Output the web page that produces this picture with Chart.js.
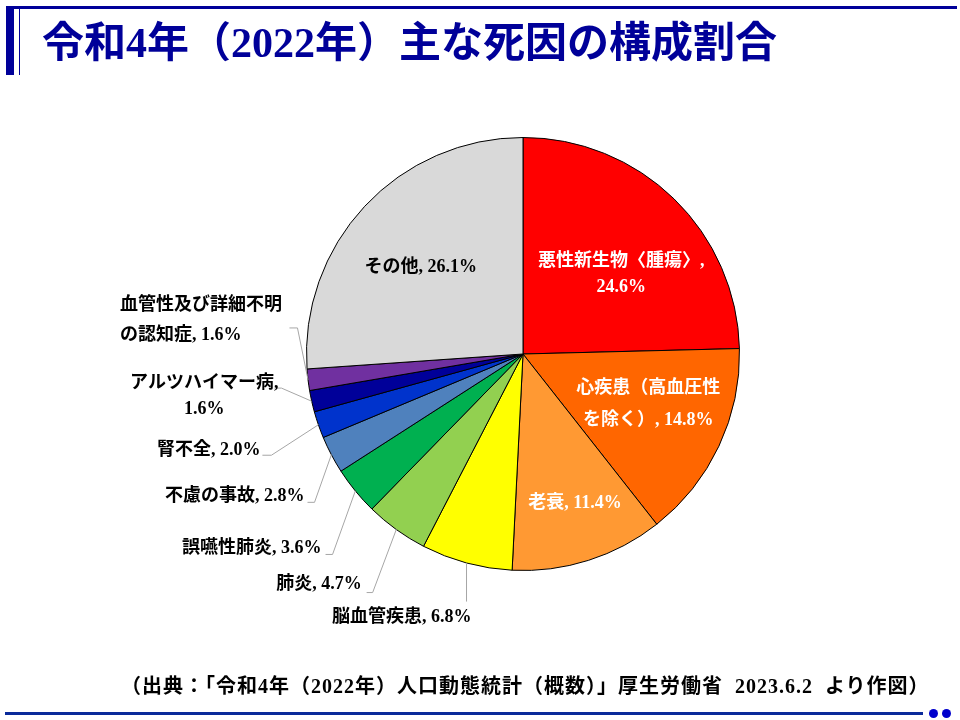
<!DOCTYPE html>
<html><head><meta charset="utf-8">
<script src="https://cdn.jsdelivr.net/npm/chart.js@4.4.1/dist/chart.umd.min.js"></script>
<style>
body{margin:0;background:#fff;}
#wrap{position:relative;width:960px;height:720px;overflow:hidden;background:#fff;}
#c{position:absolute;left:0;top:0;}
#topline{position:absolute;left:6px;top:6px;width:951px;height:3px;background:#000099;}
#bar{position:absolute;left:6px;top:6px;width:8px;height:69px;background:#000099;}
#thin{position:absolute;left:19px;top:9px;width:1px;height:66px;background:#000099;}
#title{position:absolute;left:42px;top:22px;font:bold 42px/42px "Liberation Serif","Noto Sans CJK JP";color:#000099;white-space:nowrap;}
#src{position:absolute;left:121px;top:676px;font:bold 20px/20px "Liberation Serif","Noto Sans CJK JP";letter-spacing:1px;color:#000;white-space:nowrap;}
#bottomline{position:absolute;left:5px;top:712px;width:918px;height:3px;background:#0a2a9a;}
.dot{position:absolute;top:709px;width:9px;height:9px;border-radius:50%;background:#0000cc;}
</style></head>
<body><div id="wrap">
<canvas id="c" width="960" height="720"></canvas>
<div id="topline"></div><div id="bar"></div><div id="thin"></div>
<div id="title">令和4年（2022年）主な死因の構成割合</div>
<div id="src">（出典：「令和4年（2022年）人口動態統計（概数）」厚生労働省&nbsp;&nbsp;2023.6.2&nbsp;&nbsp;より作図）</div>
<div id="bottomline"></div><div class="dot" style="left:929px"></div><div class="dot" style="left:942px"></div>
</div>
<script>
const categories = ['悪性新生物〈腫瘍〉','心疾患（高血圧性を除く）','老衰','脳血管疾患','肺炎','誤嚥性肺炎','不慮の事故','腎不全','アルツハイマー病','血管性及び詳細不明の認知症','その他'];
const values = [24.6,14.8,11.4,6.8,4.7,3.6,2.8,2.0,1.6,1.6,26.1];
const colors = ['#FF0000','#FF6600','#FF9933','#FFFF00','#92D050','#00B050','#4F81BD','#0033CC','#000099','#7030A0','#D9D9D9'];

// label layout (offsets from pie centre at reference radius 216)
const labelLayout = [
  {dx:98, dy:[-92,-67], align:'center', color:'#fff', brk:'name'},
  {dx:125, dy:[34,66], align:'center', color:'#fff', brk:8},
  {dx:52, dy:[149], align:'center', color:'#fff'},
  {dx:-121, dy:[263], align:'center', leader:{vertical:true, ey:247}},
  {dx:-161, dy:[230], align:'right', leader:{ex:-150, ey:238, tx:-156}},
  {dx:-201, dy:[194], align:'right', leader:{ex:-190, ey:200, tx:-197}},
  {dx:-218, dy:[142], align:'right', leader:{ex:-208, ey:148, tx:-215}},
  {dx:-262, dy:[96], align:'right', leader:{ex:-251, ey:101, tx:-260}},
  {dx:-318, dy:[29,55], align:'center', brk:'name', leader:{ex:-241, ey:34, tx:-248}},
  {dx:-402, dy:[-49,-19], align:'left', brk:9, leader:{ex:-225, ey:-26, tx:-233}},
  {dx:-102, dy:[-86], align:'center', color:'#000'}
];

const labelPlugin = {
  id:'pieLabels',
  afterDatasetsDraw(chart){
    const ctx = chart.ctx;
    const meta = chart.getDatasetMeta(0);
    meta.data.forEach((arc, i) => {
      const p = arc.getProps(['x','y','startAngle','endAngle','outerRadius'], true);
      const s = p.outerRadius / 216;
      const cx = p.x, cy = p.y;
      const mid = (p.startAngle + p.endAngle) / 2;
      const L = labelLayout[i];
      const full = categories[i] + ', ' + values[i].toFixed(1) + '%';
      let lines = [full];
      if (L.brk === 'name') {
        lines = [categories[i] + ',', values[i].toFixed(1) + '%'];
      } else if (typeof L.brk === 'number') {
        lines = [full.slice(0, L.brk), full.slice(L.brk)];
      }
      if (L.leader) {
        const ax = cx + p.outerRadius * Math.cos(mid);
        const ay = cy + p.outerRadius * Math.sin(mid);
        ctx.save();
        ctx.strokeStyle = '#A6A6A6';
        ctx.lineWidth = 1;
        ctx.beginPath();
        ctx.moveTo(ax, ay);
        if (L.leader.vertical) {
          ctx.lineTo(ax, cy + L.leader.ey * s);
        } else {
          ctx.lineTo(cx + L.leader.ex * s, cy + L.leader.ey * s);
          ctx.lineTo(cx + L.leader.tx * s, cy + L.leader.ey * s);
        }
        ctx.stroke();
        ctx.restore();
      }
      ctx.save();
      ctx.font = 'bold 18px "Liberation Serif", "Noto Sans CJK JP"';
      ctx.fillStyle = L.color || '#000';
      ctx.textAlign = L.align;
      ctx.textBaseline = 'middle';
      lines.forEach((t, k) => {
        ctx.fillText(t, cx + L.dx * s, cy + L.dy[k] * s);
      });
      ctx.restore();
    });
  }
};

new Chart(document.getElementById('c'), {
  type:'pie',
  data:{ labels:categories, datasets:[{ data:values, backgroundColor:colors, borderColor:'#000', borderWidth:1 }]},
  options:{
    responsive:false, animation:false,
    layout:{ padding:{ top:137, bottom:149, left:306, right:220 } },
    plugins:{ legend:{display:false}, tooltip:{enabled:false} }
  },
  plugins:[labelPlugin]
});
</script>
</body></html>
